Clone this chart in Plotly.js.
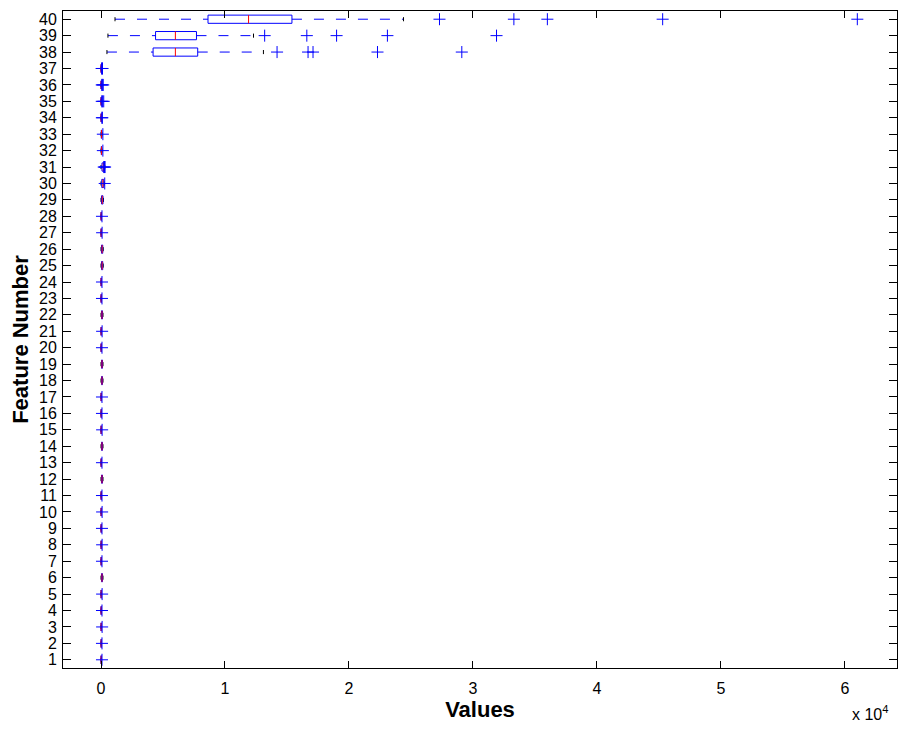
<!DOCTYPE html>
<html>
<head>
<meta charset="utf-8">
<script src="https://cdn.plot.ly/plotly-3.0.1.min.js"></script>
<style>html,body{margin:0;padding:0;background:#fff;}#chart{width:901px;height:731px;}</style>
</head>
<body>
<div id="chart"></div>
<script>
// Feature numbers 1..40
var features = [1,2,3,4,5,6,7,8,9,10,11,12,13,14,15,16,17,18,19,20,21,22,23,24,25,26,27,28,29,30,31,32,33,34,35,36,37,38,39,40];
// Box statistics per feature (values)
var lowerWhisker = [0,0,0,0,0,0,0,0,0,0,0,0,0,0,0,0,0,0,0,0,0,0,0,0,0,0,0,0,0,0,0,0,0,0,0,0,0,480,560,1130];
var q1Values     = [0,0,0,0,0,40,0,0,0,0,0,40,0,40,0,0,0,40,40,0,0,40,0,0,40,40,0,0,40,60,80,20,20,0,0,0,0,4200,4400,8630];
var medianValues = [10,10,10,10,10,80,10,10,10,10,10,80,10,80,10,10,10,80,80,10,10,80,10,10,90,90,10,10,100,150,180,40,40,10,10,10,10,6000,6000,11900];
var q3Values     = [20,20,20,20,20,120,20,20,20,20,20,120,20,120,20,20,20,120,120,20,20,120,20,20,140,140,20,20,160,220,260,60,60,20,20,20,20,7800,7700,15400];
var upperWhisker = [40,40,40,40,40,160,40,40,40,40,40,160,40,160,40,40,40,160,160,40,40,160,40,40,180,180,40,40,200,260,300,80,80,40,40,40,40,13100,12300,24400];
// Outliers per feature
var outliers = [
  [80],[80],[90],[80],[90],[],[80],[90],[80],[90],[80],[],[80],[],[90],[80],
  [80],[],[],[80],[90],[],[80],[80],[],[],[90],[80],[],
  [300],[220,280,330],[150],[150],[70,110],[60,130,220],[60,110,180],[50,90,120],
  [14200,16700,17100,22300,29100],
  [13200,16600,19000,23100,31900],
  [27300,33300,36000,45300,61000]
];
var xTickValues = [0,10000,20000,30000,40000,50000,60000];
var xTickLabels = ['0','1','2','3','4','5','6'];

var bh = 0.25, ch = 0.125;
var boxX=[],boxY=[],medX=[],medY=[],whX=[],whY=[],capX=[],capY=[],outX=[],outY=[];
for (var i=0;i<features.length;i++){
  var f=features[i];
  boxX.push(q1Values[i],q3Values[i],q3Values[i],q1Values[i],q1Values[i],null);
  boxY.push(f-bh,f-bh,f+bh,f+bh,f-bh,null);
  medX.push(medianValues[i],medianValues[i],null);
  medY.push(f-bh,f+bh,null);
  whX.push(lowerWhisker[i],q1Values[i],null,q3Values[i],upperWhisker[i],null);
  whY.push(f,f,null,f,f,null);
  capX.push(lowerWhisker[i],lowerWhisker[i],null,upperWhisker[i],upperWhisker[i],null);
  capY.push(f-ch,f+ch,null,f-ch,f+ch,null);
  for (var k=0;k<outliers[i].length;k++){ outX.push(outliers[i][k]); outY.push(f); }
}

var traces = [
  {type:'scatter',mode:'lines',x:whX,y:whY,line:{color:'#0000ff',width:1,dash:'10px,12px'},hoverinfo:'skip',showlegend:false},
  {type:'scatter',mode:'lines',x:capX,y:capY,line:{color:'#000000',width:1},hoverinfo:'skip',showlegend:false},
  {type:'scatter',mode:'lines',x:boxX,y:boxY,line:{color:'#0000ff',width:1},hoverinfo:'skip',showlegend:false},
  {type:'scatter',mode:'lines',x:medX,y:medY,line:{color:'#ff0000',width:1},hoverinfo:'skip',showlegend:false},
  {type:'scatter',mode:'markers',x:outX,y:outY,marker:{symbol:'cross-thin-open',size:8.6,color:'#0000ff',line:{color:'#0000ff',width:1}},hoverinfo:'skip',showlegend:false}
];

var fontFam = 'Liberation Sans, Arial, sans-serif';
var layout = {
  width:901,height:731,
  margin:{l:63,r:4,t:11,b:63},
  paper_bgcolor:'#ffffff',plot_bgcolor:'#ffffff',
  font:{family:fontFam,size:16,color:'#000'},
  showlegend:false,
  xaxis:{
    range:[-3065,64200],tickvals:xTickValues,ticktext:xTickLabels,
    ticks:'inside',ticklen:7,tickcolor:'#000',tickwidth:1,
    showline:true,linecolor:'#000',linewidth:1,mirror:'ticks',
    showgrid:false,zeroline:false,ticklabelstandoff:6,
    tickfont:{family:fontFam,size:16},
    title:{text:'<b>Values</b>',font:{family:fontFam,size:22},standoff:4}
  },
  yaxis:{
    range:[0.5,40.5],tickvals:features,ticktext:features.map(String),
    ticks:'inside',ticklen:8,tickcolor:'#000',tickwidth:1,
    showline:true,linecolor:'#000',linewidth:1,mirror:'ticks',
    showgrid:false,zeroline:false,ticklabelstandoff:2,
    tickfont:{family:fontFam,size:16},
    title:{text:'<b>Feature Number</b>',font:{family:fontFam,size:22},standoff:4}
  },
  annotations:[{xref:'paper',yref:'paper',x:0.9916,y:-0.068,xanchor:'right',yanchor:'middle',
    text:'x 10<sup>4</sup>',showarrow:false,font:{family:fontFam,size:16,color:'#000'}}]
};
Plotly.newPlot('chart',traces,layout,{displayModeBar:false,staticPlot:true});
</script>
</body>
</html>
